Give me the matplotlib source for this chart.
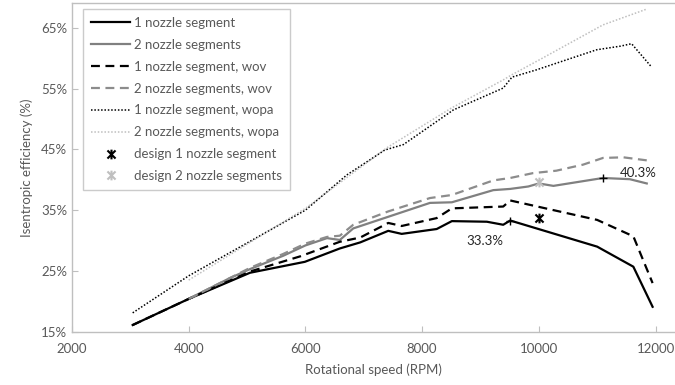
import matplotlib.pyplot as plt
from matplotlib.path import Path
from matplotlib.ticker import PercentFormatter

plt.rcParams['font.family'] = ['Lato', 'DejaVu Sans']

# 1 nozzle segment
rpm_1 = [3040, 4000, 5050, 5990, 6590, 6940, 7420, 7650, 8250, 8510, 9110, 9390, 9510, 11000, 11620, 11950]
eff_1 = [16.1, 20.4, 24.7, 26.5, 28.7, 29.7, 31.6, 31.1, 31.9, 33.2, 33.1, 32.6, 33.3, 29.0, 25.7, 19.1]

# 2 nozzle segments
rpm_2 = [4000, 4700, 5050, 5620, 6000, 6370, 6590, 6820, 8135, 8510, 9220, 9510, 9820, 10000, 10250, 11100, 11560, 11850]
eff_2 = [20.4, 23.8, 25.3, 27.5, 29.2, 30.4, 30.1, 32.0, 36.2, 36.3, 38.3, 38.5, 38.9, 39.4, 39.0, 40.3, 40.1, 39.4]

# 1 nozzle segment, wov
rpm_1wov = [3040, 4000, 5050, 5910, 6590, 6940, 7420, 7650, 8250, 8510, 9390, 9510, 11000, 11620, 11950]
eff_1wov = [16.1, 20.4, 24.9, 27.4, 29.8, 30.5, 32.9, 32.4, 33.7, 35.3, 35.6, 36.6, 33.4, 30.7, 23.0]

# 2 nozzle segments, wov
rpm_2wov = [4000, 4700, 5050, 5620, 6000, 6370, 6590, 6820, 7420, 8135, 8510, 9220, 9510, 9900, 10300, 10760, 11100, 11450, 11850]
eff_2wov = [20.4, 23.8, 25.5, 27.8, 29.5, 30.6, 30.8, 32.6, 34.8, 37.0, 37.5, 39.9, 40.3, 41.1, 41.5, 42.5, 43.6, 43.7, 43.2]

# 1 nozzle segment, wopa
rpm_1wopa = [3040, 4000, 6000, 6710, 7360, 7680, 8535, 9390, 9540, 9960, 10990, 11400, 11590, 11920]
eff_1wopa = [18.1, 24.2, 35.0, 40.8, 44.9, 45.8, 51.5, 55.1, 56.9, 58.1, 61.4, 62.0, 62.4, 58.7]

# 2 nozzle segments, wopa
rpm_2wopa = [4000, 6000, 7400, 8500, 9400, 9540, 10020, 11100, 11850]
eff_2wopa = [23.5, 35.3, 45.3, 51.8, 56.5, 57.3, 59.8, 65.5, 68.1]

# design points
design_rpm = [10000, 10000]
design_eff = [33.7, 39.7]

# maximum points + labels
peak_rpm = [9510, 11100]
peak_eff = [33.3, 40.3]
peak_txt = ['33.3%', '40.3%']
txt_rpm = [9080, 11700]
txt_eff = [30.0, 41.1]

# excel-like star marker: x with vertical bar
star = Path([(-1, -1), (1, 1), (-1, 1), (1, -1), (0, -1.2), (0, 1.2)],
            [Path.MOVETO, Path.LINETO, Path.MOVETO, Path.LINETO, Path.MOVETO, Path.LINETO])

fig = plt.figure(figsize=(6.75, 3.85), dpi=100)
ax = fig.add_axes([72/675, 1-331.7/385, 1-72/675, (331.7-3)/385])

ax.plot(rpm_1, eff_1, color='black', lw=1.6, label='1 nozzle segment')
ax.plot(rpm_2, eff_2, color='#808080', lw=1.6, label='2 nozzle segments')
ax.plot(rpm_1wov, eff_1wov, color='black', lw=1.6, dashes=(4, 2.5), label='1 nozzle segment, wov')
ax.plot(rpm_2wov, eff_2wov, color='#8c8c8c', lw=1.6, dashes=(4, 2.5), label='2 nozzle segments, wov')
ax.plot(rpm_1wopa, eff_1wopa, color='black', lw=1.1, dashes=(1, 1.2), label='1 nozzle segment, wopa')
ax.plot(rpm_2wopa, eff_2wopa, color='#bfbfbf', lw=1.1, dashes=(1, 1.2), label='2 nozzle segments, wopa')
ax.plot(design_rpm[0], design_eff[0], ls='none', marker=star, ms=7, mew=1.5, color='black',
        label='design 1 nozzle segment')
ax.plot(design_rpm[1], design_eff[1], ls='none', marker=star, ms=7, mew=1.5, color='#bfbfbf',
        label='design 2 nozzle segments')

ax.plot(peak_rpm, peak_eff, ls='none', marker='+', ms=6, mew=1, color='black')
for r, e, t in zip(txt_rpm, txt_eff, peak_txt):
    ax.text(r, e, t, ha='center', va='center', fontsize=9.5, color='#262626')

ax.set_xlim(2000, 12334)
ax.set_ylim(15, 69.1)
ax.set_xticks([2000, 4000, 6000, 8000, 10000, 12000])
ax.set_yticks([15, 25, 35, 45, 55, 65])
ax.yaxis.set_major_formatter(PercentFormatter(decimals=0))

for s in ['left', 'bottom', 'top']:
    ax.spines[s].set_color('#bfbfbf')
    ax.spines[s].set_linewidth(1)
ax.spines['right'].set_visible(False)
ax.tick_params(direction='in', length=4, color='#bfbfbf', labelsize=9.5, labelcolor='#595959')
ax.tick_params(axis='x', pad=8)

ax.set_xlabel('Rotational speed (RPM)', fontsize=9.5, color='#595959', labelpad=6)
ax.set_ylabel('Isentropic efficiency (%)', fontsize=9.5, color='#595959', labelpad=6)

leg = ax.legend(loc='upper left', bbox_to_anchor=(0.018, 0.982), borderaxespad=0, fontsize=9.5,
                frameon=True, fancybox=False, handlelength=3, handletextpad=0.3,
                labelspacing=0.75, borderpad=0.6)
leg.get_frame().set_edgecolor('#bfbfbf')
leg.get_frame().set_linewidth(1)
for t in leg.get_texts():
    t.set_color('#595959')

fig.savefig('out.png', dpi=100)
